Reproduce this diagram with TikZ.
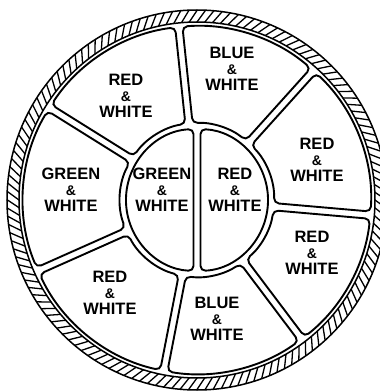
\documentclass[tikz,border=0pt]{standalone}
\usepackage{fontspec}
\setsansfont{Liberation Sans}
\usetikzlibrary{calc}

\tikzset{
  wire/.style={line width=1.9pt, rounded corners=5pt},
  sheath/.style={line width=1.5pt},
  lbl/.style={font=\sffamily\bfseries\fontsize{16.5}{16}\selectfont, align=center, inner sep=0pt}
}
\newcommand{\pairtext}[1]{#1\\{\fontsize{14}{16}\selectfont\&}\\WHITE}

\begin{document}
\begin{tikzpicture}[x=1pt,y=1pt]
  \useasboundingbox (-197,-191) rectangle (183,200);

  % Sheath with hatching
  \draw[sheath] (0,0) circle (190);
  \draw[sheath] (0,0) circle (178);
  \foreach \a in {0,2.5,...,357.5}
    \draw[line width=1.3pt] (\a:178) -- ({\a-2.6}:190);

  % Outer conductors
  \foreach \s/\e in {96/148, 148/204, 204/259, 259/307, 307/355, -5/48, 48/96}
    \draw[wire] ({\s+1.2}:174) arc[start angle=\s+1.2, end angle=\e-1.2, radius=174]
      -- ({\e-2.7}:77) arc[start angle=\e-2.7, end angle=\s+2.7, radius=77] -- cycle;

  % Inner conductors
  \draw[wire] (-3.5,70.9) arc[start angle=92.8, end angle=267.2, radius=71] -- cycle;
  \draw[wire] (3.5,-70.9) arc[start angle=-87.2, end angle=87.2, radius=71] -- cycle;

  % Labels
  \node[lbl] (topleft) at (-71,104) {\pairtext{RED}};
  \node[lbl] (top) at (35,131) {\pairtext{BLUE}};
  \node[lbl] (rightup) at (120,40) {\pairtext{RED}};
  \node[lbl] (rightlow) at (115,-53) {\pairtext{RED}};
  \node[lbl] (bottom) at (20,-119) {\pairtext{BLUE}};
  \node[lbl] (bottomleft) at (-87,-93) {\pairtext{RED}};
  \node[lbl] (left) at (-126,10) {\pairtext{GREEN}};
  \node[lbl] (innerleft) at (-35,10) {\pairtext{GREEN}};
  \node[lbl] (innerright) at (38,10) {\pairtext{RED}};
\end{tikzpicture}
\end{document}
